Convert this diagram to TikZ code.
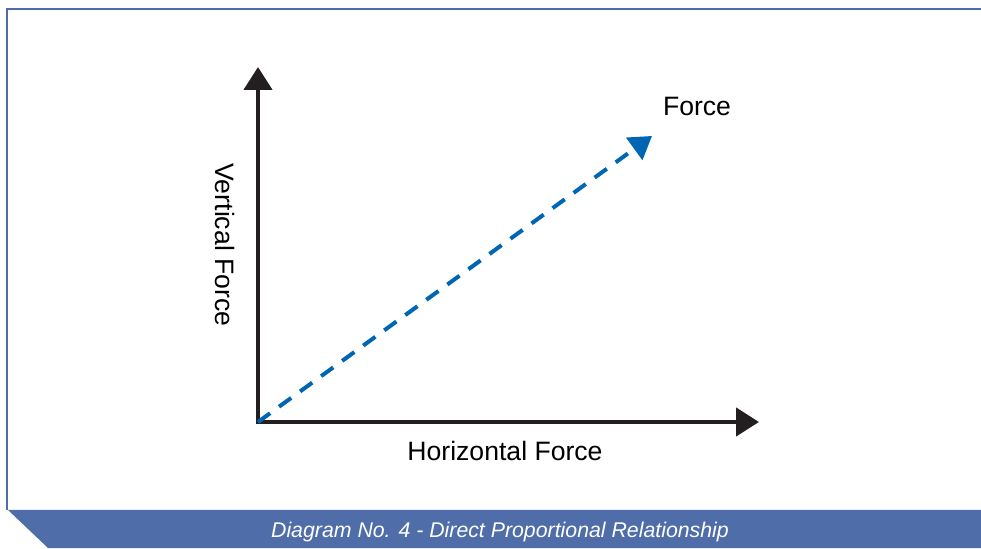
\documentclass[tikz,border=0pt]{standalone}
\usepackage{fontspec}
\setmainfont{Liberation Sans}
\usetikzlibrary{arrows.meta}
\definecolor{framecol}{HTML}{4F6DA8}
\definecolor{forceblue}{HTML}{0066B3}
\definecolor{axiscol}{HTML}{231F20}

\begin{document}
\begin{tikzpicture}[x=1pt,y=1pt,
        axisline/.style={line width=4.5pt, color=axiscol, line join=miter,
            {Triangle[length=23pt,width=28pt]}-{Triangle[length=23pt,width=28pt]}},
        forceline/.style={line width=4pt, color=forceblue, dash pattern=on 15pt off 11pt,
            -{Triangle[length=22pt,width=27pt]}},
        axislabel/.style={font=\fontsize{26.6}{32}\selectfont, inner sep=0pt},
        caption/.style={font=\fontsize{21.3}{26}\selectfont\itshape, text=white, inner sep=0pt}]
        \useasboundingbox (0,0) rectangle (981,548);
        % frame and caption banner
        \draw[framecol, line width=2pt] (7,38) -- (7,539) -- (981,539);
        \fill[framecol] (8,38) -- (981,38) -- (981,0) -- (48,0) -- cycle;
        \node[caption, anchor=base] (cap) at (500,10) {Diagram No. 4 - Direct Proportional Relationship};
        % axes
        \coordinate (O) at (258,126);
        \coordinate (ytip) at (258,481);
        \coordinate (xtip) at (759,126);
        \coordinate (ftip) at (652,412);
        \draw[axisline] (ytip) -- (O) -- (xtip);
        \draw[forceline] (O) -- (ftip);
        \node[axislabel, anchor=base] (flab) at (697,432) {Force};
        \node[axislabel, anchor=base] (hlab) at (505,87) {Horizontal Force};
        \node[axislabel, rotate=-90] (vlab) at (225,303) {Vertical Force};
    \end{tikzpicture}
\end{document}
